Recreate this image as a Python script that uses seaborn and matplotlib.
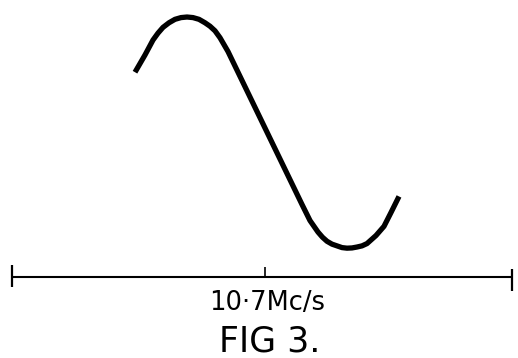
import numpy as np
import pandas as pd
import matplotlib
matplotlib.use("Agg")
import matplotlib.pyplot as plt
import seaborn as sns

# discriminator response around the 10.7 Mc/s centre frequency
freq = [10.440, 10.460, 10.476, 10.486, 10.496, 10.508, 10.520, 10.532,
        10.544, 10.556, 10.568, 10.580, 10.590, 10.600, 10.610, 10.626,
        10.636, 10.774, 10.790, 10.806, 10.815, 10.824, 10.834, 10.844,
        10.854, 10.864, 10.874, 10.884, 10.894, 10.904, 10.922, 10.938,
        10.952, 10.968]
response = [0.52, 0.67, 0.80, 0.86, 0.91, 0.95, 0.98, 0.995,
            1.00, 0.995, 0.98, 0.95, 0.92, 0.88, 0.82, 0.70,
            0.61, -0.63, -0.77, -0.87, -0.915, -0.95, -0.975, -0.99,
            -1.005, -1.01, -1.008, -1.00, -0.99, -0.97, -0.90, -0.82,
            -0.70, -0.56]

centre_freq = 10.7
span_lo, span_hi = 10.194, 11.194
axis_label = "10·7Mc/s"
fig_label = "FIG 3."

sns.set_style("white")
plt.rcParams['font.family'] = ['DejaVu Sans']

df = pd.DataFrame({"freq": freq, "response": response})

fig = plt.figure(figsize=(5.18, 3.58), dpi=100, facecolor='white')
ax = fig.add_axes([0, 0, 1, 1])
ax.set_xlim(10.17, 11.206)
ax.set_ylim(-1.965, 1.148)
ax.set_axis_off()

sns.lineplot(data=df, x="freq", y="response", sort=False, ax=ax,
             color='black', linewidth=3.8, legend=False,
             solid_capstyle='butt', solid_joinstyle='round')

# frequency axis with end stops and centre mark
base = -1.257
ax.hlines(base, span_lo, span_hi, color='black', linewidth=1.5)
ax.vlines(span_lo, -1.348, -1.157, color='black', linewidth=1.6)
ax.vlines(span_hi, -1.383, -1.19, color='black', linewidth=1.6)
ax.vlines(centre_freq, base, -1.174, color='black', linewidth=1.2)

ax.text(centre_freq + 0.004, -1.49, axis_label, ha='center', va='center',
        fontsize=18.5, color='black')
ax.text(centre_freq + 0.01, -1.82, fig_label, ha='center', va='center',
        fontsize=25, color='black')

plt.savefig("out.png", dpi=100, facecolor='white')
plt.close()
